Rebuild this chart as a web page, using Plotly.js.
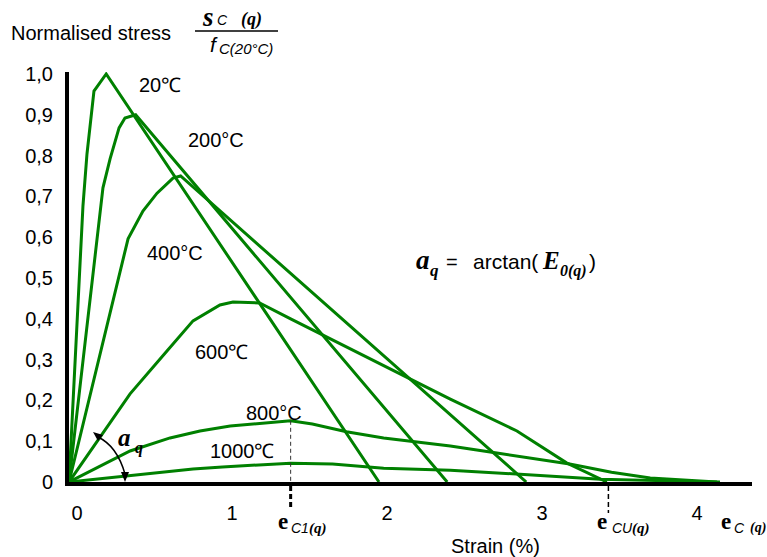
<!DOCTYPE html>
<html>
<head>
<meta charset="utf-8">
<script src="https://cdn.plot.ly/plotly-3.0.1.min.js"></script>
<style>html,body{margin:0;padding:0;background:#fff;}</style>
</head>
<body>
<div id="chart" style="width:767px;height:557px;"></div>
<script>
// ---- data (strain in %, normalised stress) ----
const tempLabels = ['20℃', '200°C', '400°C', '600℃', '800°C', '1000℃'];

const strain20 = [0, 0.09, 0.116, 0.161, 0.24, 2.0];
const stress20 = [0, 0.676, 0.804, 0.958, 1.0, 0];

const strain200 = [0, 0.2, 0.219, 0.265, 0.303, 0.323, 0.361, 0.43, 2.44];
const stress200 = [0, 0.672, 0.721, 0.792, 0.841, 0.868, 0.892, 0.90, 0];

const strain400 = [0, 0.381, 0.477, 0.568, 0.671, 0.72, 2.95];
const stress400 = [0, 0.596, 0.664, 0.708, 0.745, 0.75, 0];

const strain600 = [0, 0.394, 0.632, 0.80, 0.974, 1.058, 1.23, 1.43, 2.46, 2.89, 3.21, 3.47];
const stress600 = [0, 0.216, 0.321, 0.395, 0.434, 0.441, 0.439, 0.40, 0.203, 0.125, 0.047, 0];

const strain800 = [0, 0.394, 0.652, 0.845, 1.04, 1.43, 1.57, 1.79, 2.03, 2.46, 2.76, 3.23, 3.5, 3.75, 4.18];
const stress800 = [0, 0.076, 0.108, 0.125, 0.137, 0.15, 0.142, 0.123, 0.108, 0.088, 0.071, 0.044, 0.024, 0.01, 0];

const strain1000 = [0, 0.8, 0.99, 1.43, 1.70, 2.03, 2.46, 3.10, 3.43, 3.96, 4.2];
const stress1000 = [0, 0.032, 0.037, 0.046, 0.044, 0.034, 0.029, 0.015, 0.007, 0.002, 0];

const epsC1 = 1.43;   // strain at peak (800°C)
const epsCu = 3.48;   // ultimate strain marker

const xTickVals = [0, 1, 2, 3, 4];
const xTickText = ['0', '1', '2', '3', '4'];
const yTickVals = [0, 0.1, 0.2, 0.3, 0.4, 0.5, 0.6, 0.7, 0.8, 0.9, 1.0];
const yTickText = ['0', '0,1', '0,2', '0,3', '0,4', '0,5', '0,6', '0,7', '0,8', '0,9', '1,0'];

// ---- layout geometry ----
const L = 69, R = 15, T = 72, Bm = 75, WIDTH = 767, HEIGHT = 557;
const W = WIDTH - L - R, H = HEIGHT - T - Bm;
const BOT = HEIGHT - Bm;
const PXU = 155, PYU = 408;
const px = (x, y) => ({x: (x - L) / W, y: (BOT - y) / H});
const strainToPaper = s => s * PXU / W;

const GREEN = '#008000';
const SANS = 'Liberation Sans, Arial, sans-serif';
const SERIF = 'Liberation Serif';

const series = [
  [strain20, stress20], [strain200, stress200], [strain400, stress400],
  [strain600, stress600], [strain800, stress800], [strain1000, stress1000]
];
const traces = series.map((s, i) => ({
  type: 'scatter', mode: 'lines', x: s[0], y: s[1], name: tempLabels[i],
  line: {color: GREEN, width: 3}, hoverinfo: 'skip', cliponaxis: false
}));

function ann(x, y, text, opts) {
  const p = px(x, y);
  return Object.assign({xref: 'paper', yref: 'paper', x: p.x, y: p.y, text: text,
    showarrow: false, xanchor: 'center', yanchor: 'middle', borderpad: 0,
    font: {family: SANS, size: 20, color: '#000'}}, opts || {});
}
const serifFont = size => ({family: SERIF, size: size, color: '#000'});
const sansFont = size => ({family: SANS, size: size, color: '#000'});
const LEFT = {xanchor: 'left'};

const labelPos = [[160, 85], [216, 140], [175, 253], [221, 352], [274, 413], [242, 451]];
const annotations = tempLabels.map((t, i) => ann(labelPos[i][0], labelPos[i][1], t));

annotations.push(
  ann(10, 33, 'Normalised stress', LEFT),
  // numerator  s_C (q)
  ann(208, 17, '<b><i>s</i></b>', {font: serifFont(27)}),
  ann(222, 20, '<i>C</i>', {font: sansFont(14)}),
  ann(251, 19, '<b><i>(q)</i></b>', {font: serifFont(18)}),
  // denominator f_C(20°C)
  ann(214, 45, '<i>f</i>', {font: sansFont(21)}),
  ann(218, 49, '<i>C(20°C)</i>', {xanchor: 'left', font: sansFont(15)}),
  // formula a_q = arctan(E_0(q))
  ann(423, 260, '<b><i>a</i></b>', {font: serifFont(27)}),
  ann(434, 270, '<b><i>q</i></b>', {font: serifFont(17)}),
  ann(452, 262, '=', {font: sansFont(20)}),
  ann(472, 261, 'arctan(', {xanchor: 'left', font: sansFont(21)}),
  ann(551, 260, '<b><i>E</i></b>', {font: serifFont(25)}),
  ann(559, 271, '<b><i>0(q)</i></b>', {xanchor: 'left', font: serifFont(16)}),
  ann(592, 261, ')', {font: sansFont(21)}),
  // angle label
  ann(124, 437, '<b><i>a</i></b>', {font: serifFont(25)}),
  ann(139, 448, '<b><i>q</i></b>', {font: serifFont(16)}),
  // strain markers
  ann(283, 521, '<b>e</b>', {font: serifFont(23)}),
  ann(290, 528, '<i>C1</i>', {xanchor: 'left', font: sansFont(14)}),
  ann(308, 528, '<b><i>(q)</i></b>', {xanchor: 'left', font: serifFont(15)}),
  ann(602, 521, '<b>e</b>', {font: serifFont(23)}),
  ann(611, 528, '<i>CU</i>', {xanchor: 'left', font: sansFont(14)}),
  ann(631, 528, '<b><i>(q)</i></b>', {xanchor: 'left', font: serifFont(15)}),
  ann(726, 521, '<b>e</b>', {font: serifFont(23)}),
  ann(733, 528, '<i>C</i>', {xanchor: 'left', font: sansFont(14)}),
  ann(749, 528, '<b><i>(q)</i></b>', {xanchor: 'left', font: serifFont(14)}),
  ann(495, 546, 'Strain (%)')
);

function seg(x0, y0, x1, y1, line) {
  const a = px(x0, y0), b = px(x1, y1);
  return {type: 'line', xref: 'paper', yref: 'paper', x0: a.x, y0: a.y, x1: b.x, y1: b.y, line: line};
}
function poly(pts, fill) {
  const d = pts.map((p, i) => { const q = px(p[0], p[1]); return (i ? 'L' : 'M') + q.x + ',' + q.y; }).join(' ') + ' Z';
  return {type: 'path', xref: 'paper', yref: 'paper', path: d, fillcolor: fill, line: {width: 0}};
}
const c1x = L + epsC1 * PXU, cux = L + epsCu * PXU;
const a0 = px(98, 437), a1 = px(117, 446), a2 = px(125, 474);
const shapes = [
  seg(195, 31, 278, 31, {color: '#000', width: 1.5}),
  {type: 'line', xref: 'paper', yref: 'paper', x0: strainToPaper(epsC1), x1: strainToPaper(epsC1), y0: 0.15 * PYU / H, y1: 0, line: {color: '#333', width: 1, dash: '4px,3px'}},
  seg(c1x, 486, c1x, 510, {color: '#000', width: 3, dash: '5px,3px'}),
  seg(cux, 486, cux, 513, {color: '#000', width: 1.5, dash: '5px,3px'}),
  {type: 'path', xref: 'paper', yref: 'paper', path: `M${a0.x},${a0.y} Q${a1.x},${a1.y} ${a2.x},${a2.y}`, line: {color: '#000', width: 1.5}},
  poly([[93, 432], [103, 435], [98, 441]], '#000'),
  poly([[125, 482], [121, 472], [129, 472]], '#000')
];

const layout = {
  width: WIDTH, height: HEIGHT,
  margin: {l: L, r: R, t: T, b: Bm, pad: 0},
  paper_bgcolor: '#fff', plot_bgcolor: '#fff',
  showlegend: false,
  font: {family: SANS, size: 20, color: '#000'},
  xaxis: {range: [0, W / PXU], showgrid: false, zeroline: false, showline: true, linecolor: '#000', linewidth: 4,
    tickvals: xTickVals, ticktext: xTickText, ticks: 'outside', ticklen: 10, tickcolor: 'rgba(0,0,0,0)', ticklabelshift: 8,
    tickfont: {family: SANS, size: 20, color: '#000'}, layer: 'above traces', fixedrange: true},
  yaxis: {range: [0, H / PYU], showgrid: false, zeroline: false, showline: true, linecolor: '#000', linewidth: 4,
    tickvals: yTickVals, ticktext: yTickText, ticks: 'outside', ticklen: 8, tickcolor: 'rgba(0,0,0,0)',
    tickfont: {family: SANS, size: 20, color: '#000'}, layer: 'above traces', fixedrange: true},
  annotations: annotations,
  shapes: shapes
};

Plotly.newPlot('chart', traces, layout, {displayModeBar: false, staticPlot: true});
</script>
</body>
</html>
